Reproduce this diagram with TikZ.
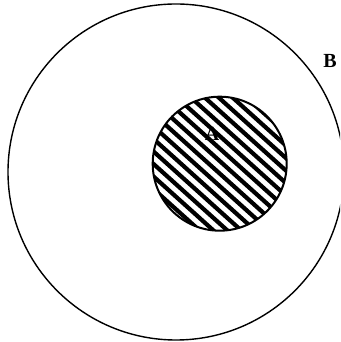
\documentclass[tikz,border=0pt]{standalone}
\usepackage{fontspec}
\setmainfont{Liberation Serif}
\begin{document}
\begin{tikzpicture}[x=1pt,y=1pt,
  lbl/.style={font=\fontsize{20}{20}\selectfont\bfseries, inner sep=0pt},
  hatch/.style={line width=4.2pt, black}]
\useasboundingbox (0,0) rectangle (340,342);
\clip (0,0) rectangle (340,342);
% big circle B
\node[draw, circle, line width=1.4pt, minimum size=336pt, inner sep=0pt] (B) at (176,170) {};
% small circle A hatched
\coordinate (Ac) at (219.7,178.3);
\begin{scope}
  \clip (Ac) circle (67);
  \begin{scope}[shift={(Ac)}, rotate=-42]
  \foreach \k in {-8,...,8} {
    \draw[hatch] (-90,\k*9.3+2) -- (90,\k*9.3+2);
  }
  \end{scope}
\end{scope}
\node[draw, circle, line width=2pt, minimum size=134pt, inner sep=0pt] (Acirc) at (Ac) {};
\node[lbl] (A) at (212,208) {A};
\node[lbl] (Blbl) at (330,281) {B};
\end{tikzpicture}
\end{document}
